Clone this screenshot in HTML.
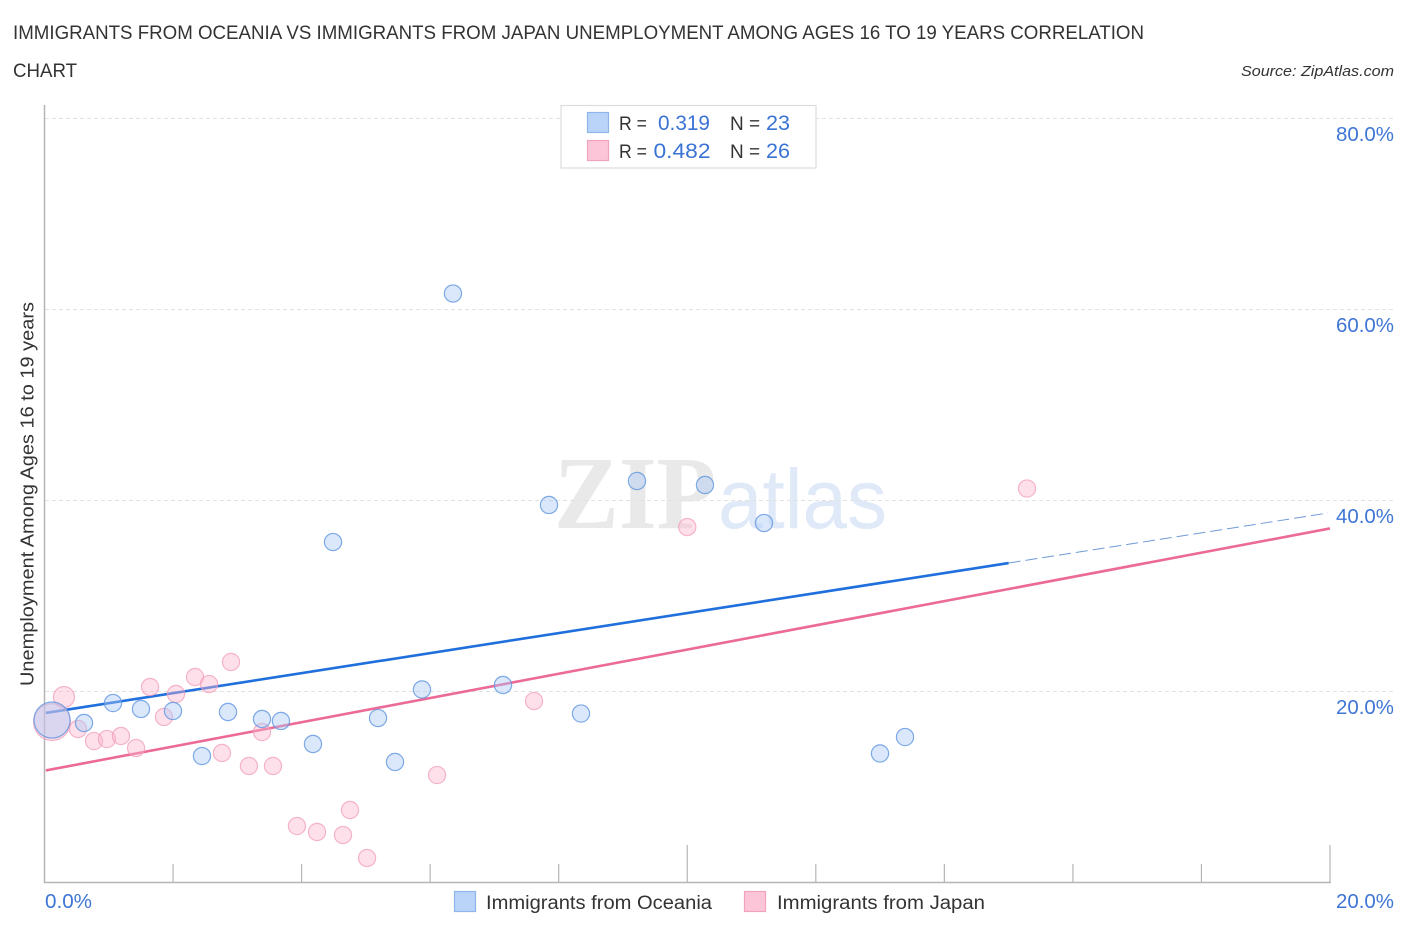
<!DOCTYPE html>
<html lang="en">
<head>
<meta charset="utf-8">
<title>Immigrants from Oceania vs Immigrants from Japan Unemployment Correlation Chart</title>
<style>
html,body{margin:0;padding:0;background:#fff;width:1406px;height:930px;overflow:hidden}
svg{display:block}
text{font-family:"Liberation Sans",sans-serif}
</style>
</head>
<body>
<svg id="chart" xmlns="http://www.w3.org/2000/svg" width="1406" height="930" viewBox="0 0 1406 930">
  <rect x="0" y="0" width="1406" height="930" fill="#ffffff"/>
  <text x="13" y="39" font-size="19.5" fill="#333333" textLength="1131" lengthAdjust="spacingAndGlyphs">IMMIGRANTS FROM OCEANIA VS IMMIGRANTS FROM JAPAN UNEMPLOYMENT AMONG AGES 16 TO 19 YEARS CORRELATION</text>
  <text x="13" y="77" font-size="19.5" fill="#333333" textLength="64" lengthAdjust="spacingAndGlyphs">CHART</text>
  <text x="1241" y="76" font-size="15" font-style="italic" fill="#333333" textLength="153" lengthAdjust="spacingAndGlyphs">Source: ZipAtlas.com</text>

  <g id="watermark">
    <text x="554" y="528" font-size="104" font-weight="bold" style="font-family:'Liberation Serif',serif" fill="#e9e9e9" textLength="162" lengthAdjust="spacingAndGlyphs">ZIP</text>
    <text x="718" y="528" font-size="84" fill="#dfe9f8" textLength="169" lengthAdjust="spacingAndGlyphs">atlas</text>
  </g>

  <g id="grid"></g>
  <g id="axes"></g>
  <g id="trends"></g>
  <g id="points"></g>
  <g id="labels"></g>

  <text transform="translate(33.5,686) rotate(-90)" font-size="18.5" fill="#333333" textLength="384" lengthAdjust="spacingAndGlyphs">Unemployment Among Ages 16 to 19 years</text>

  <g>
    <rect x="561" y="105.5" width="255" height="62.5" fill="#ffffff" stroke="#dddddd" stroke-width="1.2"/>
    <rect x="587.5" y="112.5" width="21" height="20" fill="#b9d4f8" stroke="#8fb6ea" stroke-width="1.2"/>
    <text x="619" y="130" font-size="19" fill="#333333" textLength="28" lengthAdjust="spacingAndGlyphs">R =</text>
    <text x="658" y="130" font-size="21" fill="#3b73d4" textLength="52" lengthAdjust="spacingAndGlyphs">0.319</text>
    <text x="730" y="130" font-size="19" fill="#333333">N =</text>
    <text x="766" y="130" font-size="21" fill="#3b73d4" textLength="24" lengthAdjust="spacingAndGlyphs">23</text>
    <rect x="587.5" y="140.5" width="21" height="20" fill="#fdc5d8" stroke="#f2a3bc" stroke-width="1.2"/>
    <text x="619" y="158" font-size="19" fill="#333333" textLength="28" lengthAdjust="spacingAndGlyphs">R =</text>
    <text x="653.5" y="158" font-size="21" fill="#3b73d4" textLength="57" lengthAdjust="spacingAndGlyphs">0.482</text>
    <text x="730" y="158" font-size="19" fill="#333333">N =</text>
    <text x="766" y="158" font-size="21" fill="#3b73d4" textLength="24" lengthAdjust="spacingAndGlyphs">26</text>
  </g>

  <g>
    <rect x="454.5" y="891.5" width="21" height="20" fill="#b9d4f8" stroke="#8fb6ea" stroke-width="1.2"/>
    <text x="486" y="909" font-size="19" fill="#333333" textLength="226" lengthAdjust="spacingAndGlyphs">Immigrants from Oceania</text>
    <rect x="744.5" y="891.5" width="21" height="20" fill="#fdc5d8" stroke="#f2a3bc" stroke-width="1.2"/>
    <text x="777" y="909" font-size="19" fill="#333333" textLength="208" lengthAdjust="spacingAndGlyphs">Immigrants from Japan</text>
  </g>
</svg>
<script>
// Chart data (percent units)
const yTickValues = [20, 40, 60, 80];
const yTickLabels = ["20.0%", "40.0%", "60.0%", "80.0%"];
const xTickValues = [2, 4, 6, 8, 10, 12, 14, 16, 18, 20];
const xMajorTicks = [10, 20];
const xEndLabels = ["0.0%", "20.0%"];
const xEndValues = [0, 20];

const oceaniaX = [6.355,4.489,7.849,9.218,10.276,11.194,1.066,1.501,1.999,0.615,2.855,3.384,3.679,4.177,5.189,5.873,7.133,8.347,5.453,2.450,12.999,13.388,0.117];
const oceaniaY = [61.62,35.60,39.48,41.99,41.57,37.59,18.74,18.12,17.91,16.65,17.80,17.07,16.86,14.45,17.17,20.16,20.63,17.64,12.57,13.19,13.46,15.18,16.96];
const oceaniaWeight = [1,1,1,1,1,1,1,1,1,1,1,1,1,1,1,1,1,1,1,1,1,1,4.4];

const japanX = [15.286,10.0,7.616,6.107,2.901,2.342,2.560,2.046,1.642,1.859,0.303,0.117,0.521,0.770,0.972,1.190,1.424,2.761,3.181,3.555,3.384,3.928,4.240,4.644,4.753,5.018];
const japanY = [41.20,37.17,18.95,11.20,23.04,21.47,20.73,19.69,20.42,17.28,19.37,16.75,16.02,14.76,14.97,15.29,14.03,13.51,12.15,12.15,15.71,5.86,5.24,4.92,7.54,2.51];
const japanWeight = [1,1,1,1,1,1,1,1,1,1,1.5,4.6,1,1,1,1,1,1,1,1,1,1,1,1,1,1];

const oceaniaTrendX = [0.02, 15.0];
const oceaniaTrendY = [17.70, 33.40];
const oceaniaTrendDashX = [15.0, 19.97];
const oceaniaTrendDashY = [33.40, 38.64];
const japanTrendX = [0.02, 20.0];
const japanTrendY = [11.68, 37.02];

// Axis functions
const sx = v => 44.5 + v * 64.275;
const sy = v => 882 - v * 9.55;
const sr = w => 8.6 * Math.sqrt(w);

const NS = "http://www.w3.org/2000/svg";
function make(tag, attrs, parent) {
  const el = document.createElementNS(NS, tag);
  for (const k in attrs) el.setAttribute(k, attrs[k]);
  parent.appendChild(el);
  return el;
}

const gridG = document.getElementById("grid");
yTickValues.forEach(v => {
  const l = make("line", {x1: 45, x2: 1395, y1: sy(v) + 0.5, y2: sy(v) + 0.5, stroke: "#e2e2e2", "stroke-width": 1, "stroke-dasharray": "4 3"}, gridG);
  
  
});

const axesG = document.getElementById("axes");
const yAxis = make("line", {x1: 44.5, x2: 44.5, y1: 105, y2: 883, stroke: "#b5b5b5", "stroke-width": 1.5}, axesG);


const xAxis = make("line", {x1: 44, x2: 1331, y1: 882.5, y2: 882.5, stroke: "#b5b5b5", "stroke-width": 1.5}, axesG);


xTickValues.forEach(v => {
  const top = xMajorTicks.includes(v) ? 845 : 864;
  const t = make("line", {x1: sx(v), x2: sx(v), y1: top, y2: 882, stroke: "#b5b5b5", "stroke-width": 1.2}, axesG);
  
  
});

const trendG = document.getElementById("trends");
const oceaniaTrend = make("line", {x1: sx(oceaniaTrendX[0]), y1: sy(oceaniaTrendY[0]), x2: sx(oceaniaTrendX[1]), y2: sy(oceaniaTrendY[1]), stroke: "#1f6fdc", "stroke-width": 2.6}, trendG);


const oceaniaDash = make("line", {x1: sx(oceaniaTrendDashX[0]), y1: sy(oceaniaTrendDashY[0]), x2: sx(oceaniaTrendDashX[1]), y2: sy(oceaniaTrendDashY[1]), stroke: "#6f9bd8", "stroke-width": 1, "stroke-dasharray": "12 5"}, trendG);


const japanTrend = make("line", {x1: sx(japanTrendX[0]), y1: sy(japanTrendY[0]), x2: sx(japanTrendX[1]), y2: sy(japanTrendY[1]), stroke: "#ec6a97", "stroke-width": 2.6}, trendG);



const pointsG = document.getElementById("points");
japanX.forEach((x, i) => {
  const c = make("circle", {cx: sx(x), cy: sy(japanY[i]), r: sr(japanWeight[i]), fill: "#fbb6cd", "fill-opacity": 0.42, stroke: "#f199b6", "stroke-opacity": 0.7, "stroke-width": 1.2}, pointsG);
  
  
});
oceaniaX.forEach((x, i) => {
  const c = make("circle", {cx: sx(x), cy: sy(oceaniaY[i]), r: sr(oceaniaWeight[i]), fill: "#a9c9f5", "fill-opacity": 0.42, stroke: "#5f95e0", "stroke-opacity": 0.8, "stroke-width": 1.2}, pointsG);
  
  
});

const labelsG = document.getElementById("labels");
yTickValues.forEach((v, i) => {
  const t = make("text", {x: 1336, y: sy(v) + 23, "font-size": 20, fill: "#3f76d6", textLength: 58, lengthAdjust: "spacingAndGlyphs"}, labelsG);
  
  
  t.textContent = yTickLabels[i];
});
xEndValues.forEach((v, i) => {
  const t = make("text", {x: i === 0 ? 45 : 1336, y: 908, "font-size": 20, fill: "#3f76d6", textLength: i === 0 ? 47 : 58, lengthAdjust: "spacingAndGlyphs"}, labelsG);
  
  
  t.textContent = xEndLabels[i];
});
</script>
</body>
</html>
